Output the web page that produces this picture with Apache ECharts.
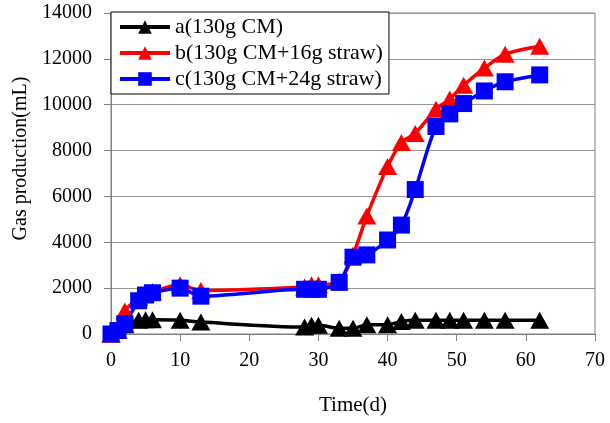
<!DOCTYPE html>
<html>
<head>
<meta charset="utf-8">
<script src="https://cdn.jsdelivr.net/npm/echarts@6/dist/echarts.min.js"></script>
<style>
html,body{margin:0;padding:0;background:#fff;}
#chart{width:610px;height:423px;}
</style>
</head>
<body>
<div id="chart"></div>
<script>
const days = [0, 1, 2, 4, 5, 6, 10, 13, 28, 29, 30, 33, 35, 37, 40, 42, 44, 47, 49, 51, 54, 57, 62];
const seriesA = [0, 150, 400, 600, 620, 620, 600, 520, 300, 380, 380, 250, 250, 400, 400, 550, 600, 600, 600, 600, 600, 600, 600];
const seriesB = [0, 150, 1000, 1600, 1800, 1850, 2150, 1900, 2050, 2150, 2150, 2300, 3450, 5150, 7300, 8350, 8750, 9800, 10250, 10850, 11600, 12200, 12550];
const seriesC = [0, 150, 450, 1450, 1700, 1800, 2000, 1650, 1950, 1950, 1950, 2250, 3350, 3450, 4100, 4750, 6300, 9050, 9600, 10050, 10600, 11000, 11300];
const seriesNames = ['a(130g CM)', 'b(130g CM+16g straw)', 'c(130g CM+24g straw)'];
const xTitle = 'Time(d)';
const yTitle = 'Gas production(mL)';

const font = 'Liberation Serif';
function pairs(vals){ return days.map((d,i)=>[d, vals[i]]); }

const chart = echarts.init(document.getElementById('chart'), null, {renderer:'canvas'});
const mk = (name, vals, color, symbol, size) => ({
  name: name, type: 'line', data: pairs(vals), smooth: 0.3,
  symbol: symbol, symbolSize: size,
  lineStyle: {color: color, width: 3.5},
  itemStyle: {color: color, borderColor: color, borderWidth: 0},
  emphasis: {disabled: true}
});
chart.setOption({
  animation: false,
  grid: {left: 111, right: 15, top: 13, bottom: 89, show: true, borderColor: '#808080', borderWidth: 1},
  legend: {
    orient: 'vertical', left: 111, top: 12,
    backgroundColor: '#fff', borderColor: '#000', borderWidth: 1,
    padding: [4, 6, 4, 7], itemWidth: 50, itemHeight: 17, itemGap: 4,
    lineStyle: {width: 4},
    textStyle: {fontFamily: font, fontSize: 22, color: '#000'},
    data: seriesNames
  },
  xAxis: {
    type: 'value', min: 0, max: 70, interval: 10,
    name: xTitle, nameLocation: 'middle', nameGap: 61,
    nameTextStyle: {fontFamily: font, fontSize: 21, color: '#000'},
    axisLine: {lineStyle: {color: '#808080', width: 1}},
    axisTick: {show: true, length: 7, inside: false, lineStyle: {color: '#808080'}},
    axisLabel: {fontFamily: font, fontSize: 20, color: '#000', margin: 17},
    splitLine: {show: false}
  },
  yAxis: {
    type: 'value', min: 0, max: 14000, interval: 2000,
    name: yTitle, nameLocation: 'middle', nameGap: 78,
    nameTextStyle: {fontFamily: font, fontSize: 20, color: '#000', padding: [0, 0, 0, 30]},
    axisLine: {show: true, lineStyle: {color: '#808080', width: 1}},
    axisTick: {show: true, length: 7, inside: false, lineStyle: {color: '#808080'}},
    axisLabel: {fontFamily: font, fontSize: 20, color: '#000', margin: 19, formatter: v => String(v)},
    splitLine: {show: true, lineStyle: {color: '#999999', width: 1}}
  },
  series: [
    mk(seriesNames[0], seriesA, '#000000', 'triangle', [19, 17]),
    mk(seriesNames[1], seriesB, '#ff0000', 'triangle', [19, 17]),
    mk(seriesNames[2], seriesC, '#0000ff', 'rect', [17, 17])
  ]
});
</script>
</body>
</html>
